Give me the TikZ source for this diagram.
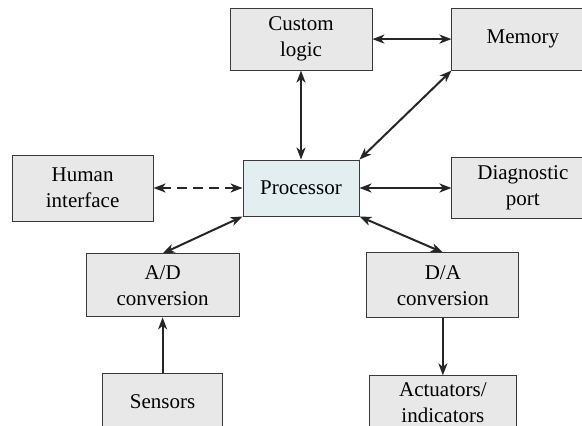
\documentclass[tikz,border=0pt]{standalone}
\usepackage{fontspec}
\setmainfont{Liberation Serif}
\usepackage{tikz}
\usetikzlibrary{arrows.meta, positioning}
\usepackage{xcolor}
\definecolor{boxgray}{HTML}{E8E8E8}
\definecolor{procblue}{HTML}{E2EEF0}
\definecolor{edgegray}{HTML}{3A3A3A}

\begin{document}
\begin{tikzpicture}[x=1pt, y=1pt, >={Stealth[length=12pt, width=9pt, inset=3.5pt]},
    every node/.style={draw=edgegray, line width=0.9pt, fill=boxgray, align=center, inner sep=2pt,
        minimum height=62pt, font=\fontsize{21}{26}\selectfont},
    link/.style={line width=2pt, draw=black!85}]
    \useasboundingbox (-301,188) rectangle (281,-238);
    \clip (-301,188) rectangle (281,-238);
    \node (Proc) [fill=procblue, minimum width=116pt, minimum height=56pt] {Processor};
    \node (CL)   [above=89pt of Proc, minimum width=142pt] {Custom\\logic};
    \node (Mem)  [right=79pt of CL, minimum width=142pt] {Memory};
    \node (HI)   [left=89pt of Proc, minimum width=141pt, minimum height=66pt] {Human\\interface};
    \node (DP)   [right=92pt of Proc, minimum width=142pt, minimum height=61pt] {Diagnostic\\port};
    \node (AD)   [below left=37pt and 3pt of Proc.south west, anchor=north east, minimum width=153pt, minimum height=63pt] {A/D\\conversion};
    \node (DA)   [below right=36pt and 7pt of Proc.south east, anchor=north west, minimum width=152pt, minimum height=65pt] {D/A\\conversion};
    \node (Sen)  [below=56pt of AD, minimum width=120pt, minimum height=56pt] {Sensors};
    \node (Act)  [below=57pt of DA, minimum width=147pt, minimum height=54pt] {Actuators/\\indicators};
    \draw[link, <->] (CL) -- (Mem);
    \draw[link, <->] (CL) -- (Proc);
    \draw[link, <->] (Proc.north east) -- (Mem.south west);
    \draw[link, <->, dash pattern=on 10pt off 6pt] (HI) -- (Proc);
    \draw[link, <->] (Proc) -- (DP);
    \draw[link, <->] (Proc.south west) -- (AD.north);
    \draw[link, <->] (Proc.south east) -- (DA.north);
    \draw[link, ->] (Sen) -- (AD);
    \draw[link, ->] (DA) -- (Act);
\end{tikzpicture}
\end{document}
